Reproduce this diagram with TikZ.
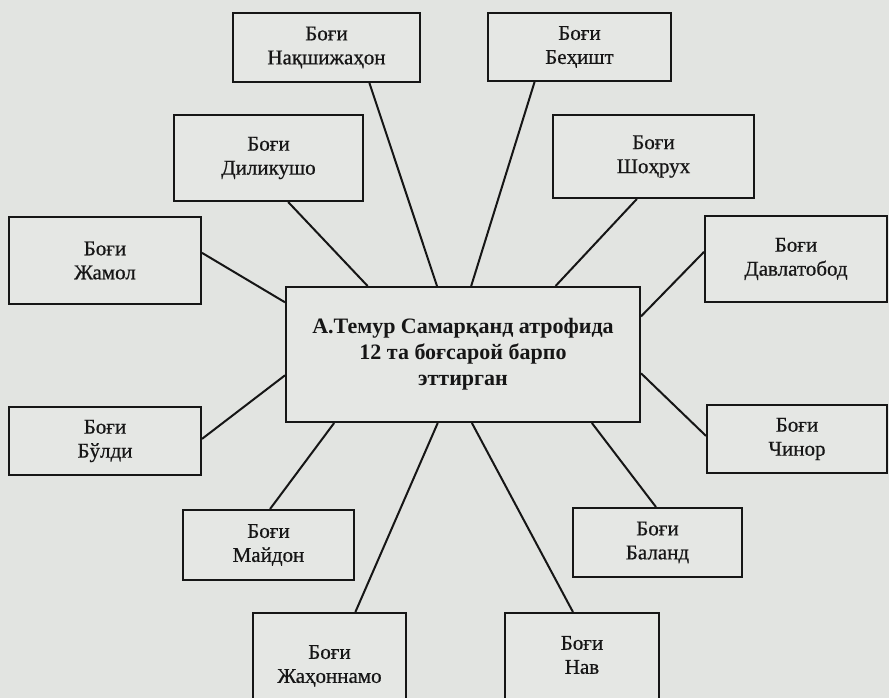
\documentclass[tikz,border=0pt]{standalone}
\usepackage{fontspec}
\setmainfont{Liberation Serif}
\newfontfamily\labfont{Liberation Serif}[FakeBold=0.6]
\usetikzlibrary{calc}
\definecolor{paper}{RGB}{226,228,225}
\definecolor{boxfill}{RGB}{229,231,228}
\definecolor{ink}{RGB}{22,22,22}
\tikzset{
  gbox/.style={draw=ink, fill=boxfill, line width=2pt, rectangle, inner sep=0pt,
    align=center, text=ink, font=\labfont\fontsize{21}{24}\selectfont},
  lbl/.style={inner sep=0pt, align=center, text=ink, font=\labfont\fontsize{21}{24}\selectfont},
  cbox/.style={gbox, font=\bfseries\fontsize{22}{26}\selectfont},
  link/.style={draw=ink, line width=2pt}
}
\begin{document}
\begin{tikzpicture}[x=1pt,y=-1pt]
\fill[paper] (0,0) rectangle (889,698);
\useasboundingbox (0,0) rectangle (889,698);
\clip (0,0) rectangle (889,698);

% outer boxes
\node[gbox, minimum width=187pt, minimum height=69pt] (naq) at (326.5,47.5) {Боғи\\Нақшижаҳон};
\node[gbox, minimum width=183pt, minimum height=68pt] (beh) at (579.5,47) {Боғи\\Беҳишт};
\node[gbox, minimum width=189pt, minimum height=86pt] (dil) at (268.5,158) {Боғи\\Диликушо};
\node[gbox, minimum width=201pt, minimum height=83pt] (sho) at (653.5,156.5) {Боғи\\Шоҳрух};
\node[gbox, minimum width=192pt, minimum height=87pt] (jam) at (105,260.5) {Боғи\\Жамол};
\node[gbox, minimum width=182pt, minimum height=86pt] (dav) at (796,259) {Боғи\\Давлатобод};
\node[gbox, minimum width=192pt, minimum height=68pt] (bul) at (105,441) {Боғи\\Бўлди};
\node[gbox, minimum width=180pt, minimum height=68pt] (chi) at (797,439) {Боғи\\Чинор};
\node[gbox, minimum width=171pt, minimum height=70pt] (may) at (268.5,545) {Боғи\\Майдон};
\node[gbox, minimum width=169pt, minimum height=69pt] (bal) at (657.5,542.5) {Боғи\\Баланд};
\node[gbox, minimum width=153pt, minimum height=109pt] (jah) at (329.5,667.5) {};
\node[lbl] (jahT) at (329.5,666) {Боғи\\Жаҳоннамо};
\node[gbox, minimum width=154pt, minimum height=109pt] (nav) at (582,667.5) {};
\node[lbl] (navT) at (582,655) {Боғи\\Нав};

% centre box
\node[cbox, minimum width=354pt, minimum height=135pt] (c) at (463,354.5)
  {А.Темур Самарқанд атрофида\\12 та боғсарой барпо\\эттирган};

% connectors
\draw[link] ($(naq.south west)!0.727!(naq.south east)$) -- ($(c.north west)!0.427!(c.north east)$);
\draw[link] ($(beh.south west)!0.257!(beh.south east)$) -- ($(c.north west)!0.523!(c.north east)$);
\draw[link] ($(dil.south west)!0.603!(dil.south east)$) -- ($(c.north west)!0.232!(c.north east)$);
\draw[link] ($(sho.south west)!0.418!(sho.south east)$) -- ($(c.north west)!0.760!(c.north east)$);
\draw[link] ($(jam.north east)!0.414!(jam.south east)$) -- ($(c.north west)!0.119!(c.south west)$);
\draw[link] ($(dav.north west)!0.419!(dav.south west)$) -- ($(c.north east)!0.222!(c.south east)$);
\draw[link] ($(bul.north east)!0.47!(bul.south east)$) -- ($(c.north west)!0.652!(c.south west)$);
\draw[link] ($(chi.north west)!0.456!(chi.south west)$) -- ($(c.north east)!0.637!(c.south east)$);
\draw[link] ($(may.north west)!0.509!(may.north east)$) -- ($(c.south west)!0.138!(c.south east)$);
\draw[link] ($(jah.north west)!0.667!(jah.north east)$) -- ($(c.south west)!0.429!(c.south east)$);
\draw[link] ($(nav.north west)!0.442!(nav.north east)$) -- ($(c.south west)!0.525!(c.south east)$);
\draw[link] ($(bal.north west)!0.491!(bal.north east)$) -- ($(c.south west)!0.862!(c.south east)$);
\end{tikzpicture}
\end{document}
